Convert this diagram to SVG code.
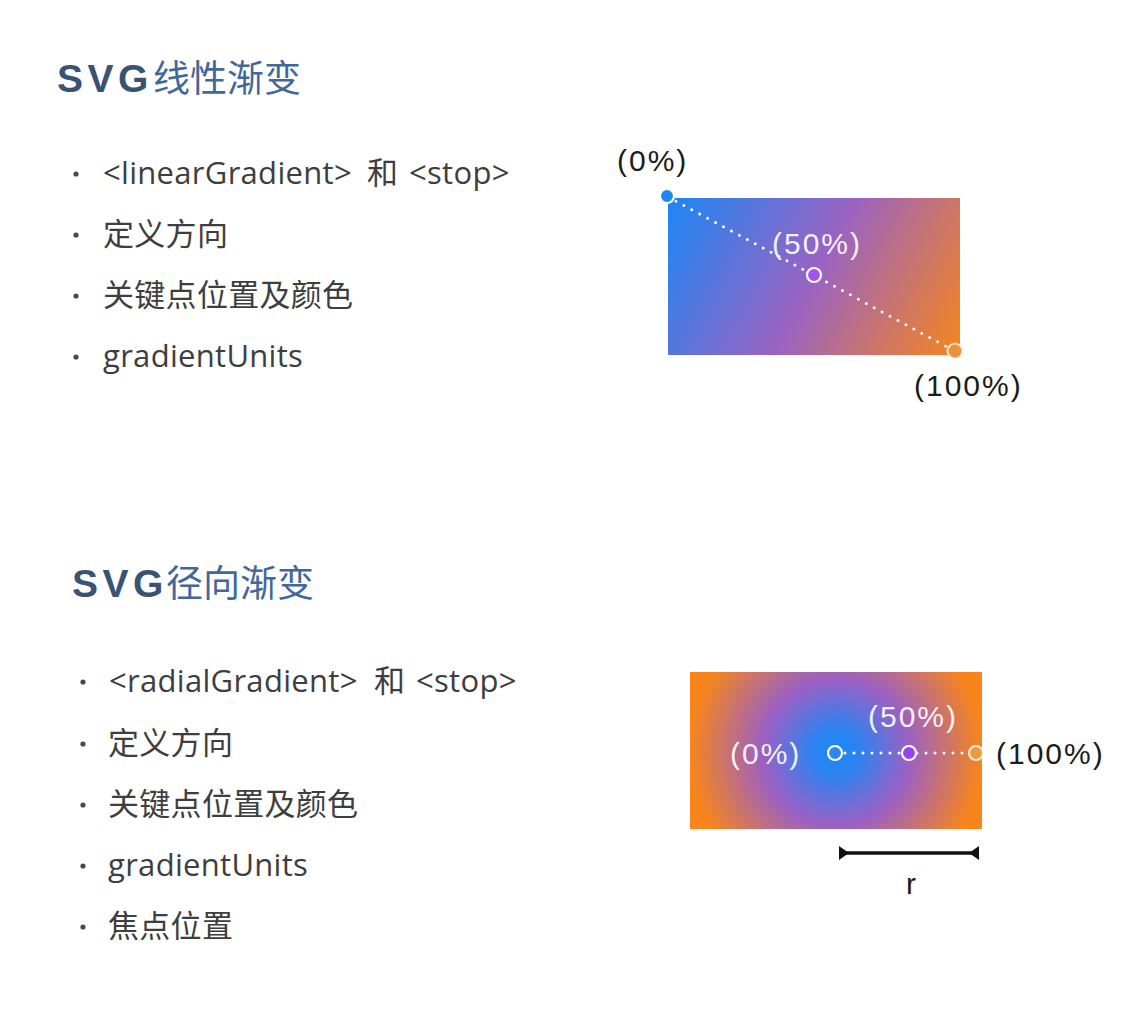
<svg xmlns="http://www.w3.org/2000/svg" width="1129" height="1029" viewBox="0 0 1129 1029">
  <style>
    .title { font-family: "Liberation Sans", "Noto Sans CJK SC", sans-serif; font-size: 39px; font-weight: bold; fill: #3a5274; letter-spacing: 4.5px; }
    .title .cjk { font-family: "Noto Sans CJK SC", sans-serif; font-size: 37px; font-weight: normal; fill: #42679a; letter-spacing: 0; }
    .item { font-family: "Open Sans", "Noto Sans CJK SC", sans-serif; font-size: 31px; fill: #3e3e3e; letter-spacing: 0.3px; }
    .dot { fill: #4a4a4a; }
    .pct { font-family: "Liberation Sans", sans-serif; font-size: 30px; letter-spacing: 2px; }
    .dark { fill: #1c1c1c; }
    .light { fill: #ffffff; fill-opacity: 0.92; }
    .guide { stroke: #ffffff; stroke-width: 3; stroke-linecap: round; stroke-dasharray: 0 9; fill: none; }
    .stopmark { stroke: #ffffff; stroke-width: 2.2; }
  </style>
  <defs>
    <linearGradient id="linFill" gradientUnits="userSpaceOnUse" x1="668" y1="198" x2="960" y2="355">
      <stop offset="0" stop-color="#1b87f6"/>
      <stop offset="0.5" stop-color="#9a63c2"/>
      <stop offset="1" stop-color="#f7851c"/>
    </linearGradient>
    <radialGradient id="radFill" gradientUnits="userSpaceOnUse" cx="836" cy="752" r="146">
      <stop offset="0" stop-color="#1b87f6"/>
      <stop offset="0.15" stop-color="#2a84f2"/>
      <stop offset="0.5" stop-color="#9a60c4"/>
      <stop offset="1" stop-color="#f7851c"/>
    </radialGradient>
    <marker id="barEnd" markerUnits="userSpaceOnUse" viewBox="-11 -8 12 16" refX="0" refY="0" markerWidth="12" markerHeight="16" orient="auto-start-reverse">
      <path d="M0,-7 L0,7 L-10,0 Z" fill="#111111"/>
    </marker>
  </defs>

  <!-- linear gradient section -->
  <g id="linear-section">
    <text class="title" x="57" y="92">SVG<tspan class="cjk" x="153">线性渐变</tspan></text>
    <g id="linear-list">
      <circle class="dot" cx="76" cy="174" r="2.6"/>
      <text class="item" x="103" y="184">&lt;linearGradient&gt;<tspan x="367">和</tspan><tspan x="409">&lt;stop&gt;</tspan></text>
      <circle class="dot" cx="76" cy="235" r="2.6"/>
      <text class="item" x="103" y="245">定义方向</text>
      <circle class="dot" cx="76" cy="296" r="2.6"/>
      <text class="item" x="103" y="306">关键点位置及颜色</text>
      <circle class="dot" cx="76" cy="357" r="2.6"/>
      <text class="item" x="103" y="367">gradientUnits</text>
    </g>
    <g id="linear-demo">
      <rect x="668" y="198" width="292" height="157" fill="url(#linFill)"/>
      <line class="guide" x1="668" y1="197" x2="955" y2="351"/>
      <circle class="stopmark" cx="667" cy="196" r="7" fill="#1c86f2"/>
      <circle class="stopmark" cx="814" cy="275" r="7" fill="#a253f2"/>
      <circle class="stopmark" cx="955" cy="351" r="7.5" fill="#e8933c" stroke-opacity="0.7"/>
      <text class="pct dark" x="617" y="171">(0%)</text>
      <text class="pct light" x="772" y="254">(50%)</text>
      <text class="pct dark" x="914" y="396">(100%)</text>
    </g>
  </g>

  <!-- radial gradient section -->
  <g id="radial-section">
    <text class="title" x="72" y="597">SVG<tspan class="cjk" x="166">径向渐变</tspan></text>
    <g id="radial-list">
      <circle class="dot" cx="83" cy="682" r="2.6"/>
      <text class="item" x="109" y="692">&lt;radialGradient&gt;<tspan x="374">和</tspan><tspan x="416">&lt;stop&gt;</tspan></text>
      <circle class="dot" cx="83" cy="744" r="2.6"/>
      <text class="item" x="108" y="754">定义方向</text>
      <circle class="dot" cx="83" cy="805" r="2.6"/>
      <text class="item" x="108" y="815">关键点位置及颜色</text>
      <circle class="dot" cx="83" cy="866" r="2.6"/>
      <text class="item" x="108" y="876">gradientUnits</text>
      <circle class="dot" cx="83" cy="927" r="2.6"/>
      <text class="item" x="108" y="937">焦点位置</text>
    </g>
    <g id="radial-demo">
      <rect x="690" y="672" width="292" height="157" fill="url(#radFill)"/>
      <line class="guide" x1="845" y1="753" x2="968" y2="753"/>
      <circle class="stopmark" cx="835" cy="753" r="7" fill="#2a88f2"/>
      <circle class="stopmark" cx="909" cy="753" r="7" fill="#9343f2"/>
      <circle class="stopmark" cx="976" cy="753" r="7" fill="#eb9a3c" stroke-opacity="0.8"/>
      <text class="pct light" x="730" y="764">(0%)</text>
      <text class="pct light" x="868" y="727">(50%)</text>
      <text class="pct dark" x="996" y="764">(100%)</text>
      <line x1="839" y1="853" x2="979" y2="853" stroke="#111111" stroke-width="3.5" marker-start="url(#barEnd)" marker-end="url(#barEnd)"/>
      <text class="pct dark" x="906" y="894" letter-spacing="0">r</text>
    </g>
  </g>
</svg>
